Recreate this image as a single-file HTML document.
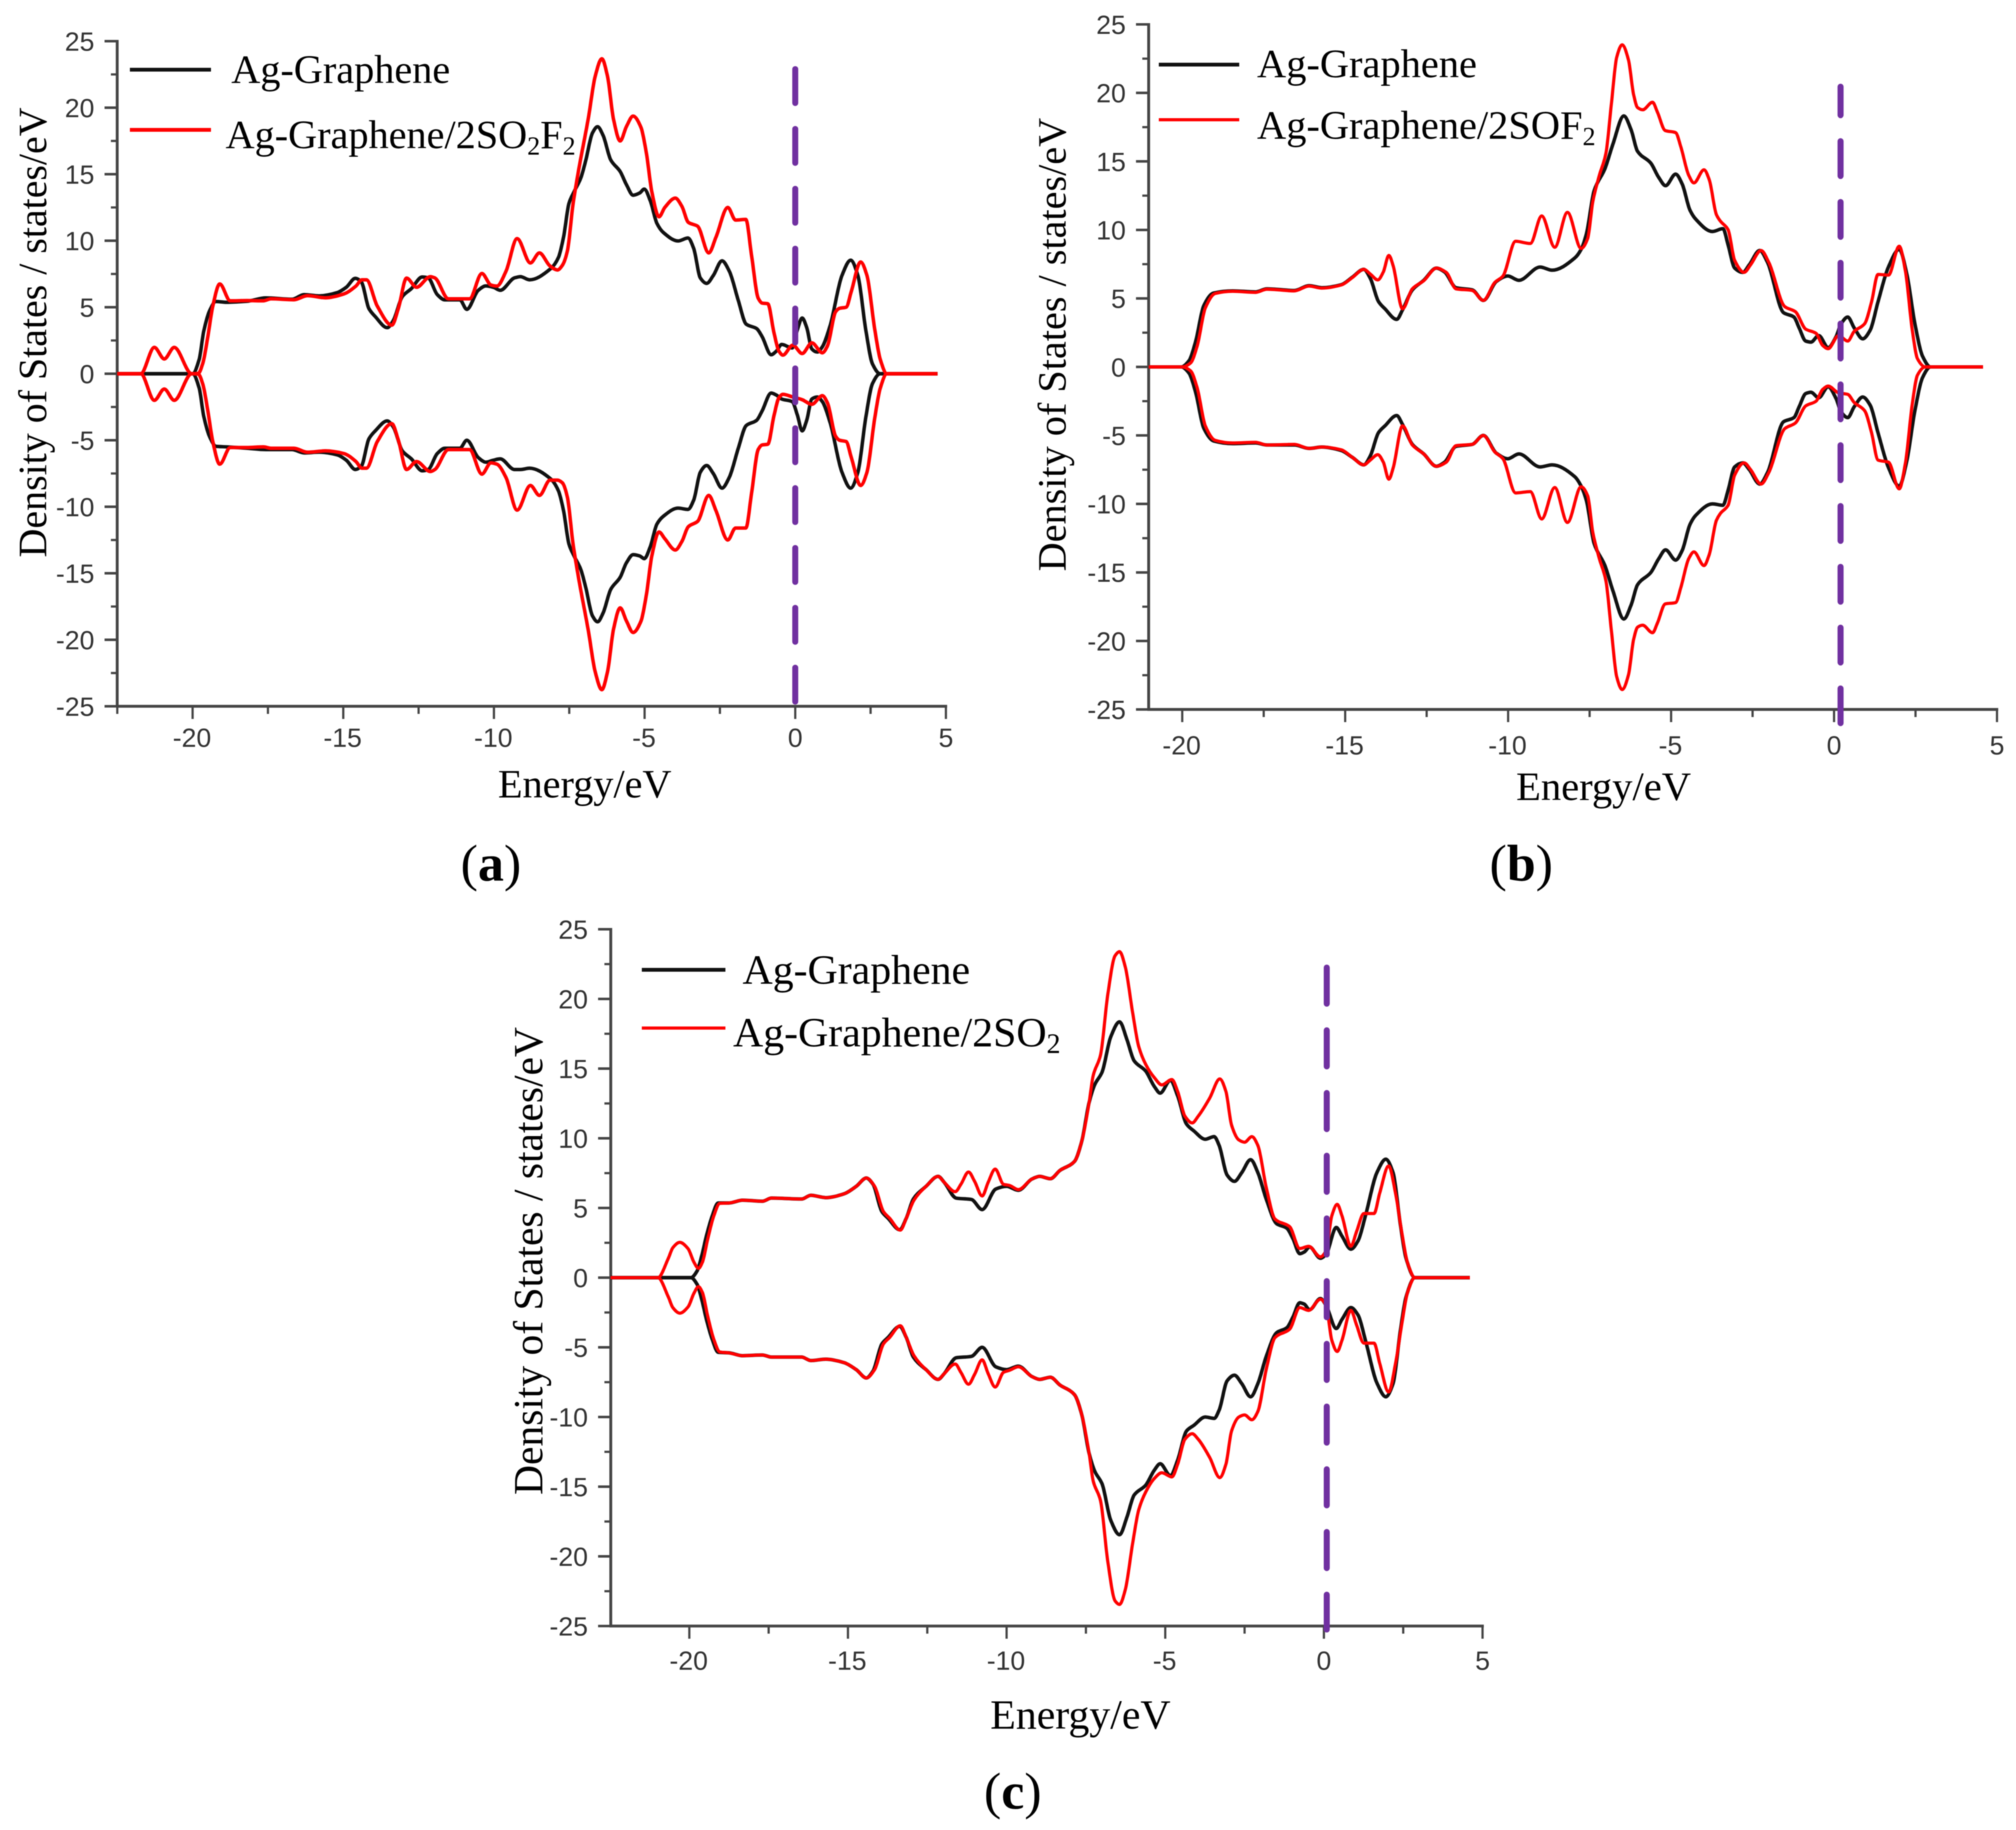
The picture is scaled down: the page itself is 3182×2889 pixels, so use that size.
<!DOCTYPE html>
<html lang="en">
<head>
<meta charset="utf-8">
<title>Density of states charts</title>
<style>
html,body{margin:0;padding:0;background:#fff;}
#figure{display:block;width:3182px;height:2889px;background:#fff;filter:blur(0.7px);}
.tick-label{font-family:"Liberation Sans",sans-serif;font-size:42px;fill:#333;}
.serif{font-family:"Liberation Serif",serif;fill:#000;}
</style>
</head>
<body>
<svg id="figure" xmlns="http://www.w3.org/2000/svg" width="3182" height="2889" viewBox="0 0 3182 2889">
  <g id="panel-a"></g>
  <g id="panel-b"></g>
  <g id="panel-c"></g>

  <text class="serif" font-size="63" transform="translate(73,880) rotate(-90)">Density of States / states/eV</text>
  <text class="serif" font-size="63.5" x="786" y="1259">Energy/eV</text>
  <line x1="205" x2="333" y1="110" y2="110" stroke="#111" stroke-width="6"/>
  <text class="serif" font-size="63.5" x="365" y="131">Ag-Graphene</text>
  <line x1="205" x2="333" y1="205" y2="205" stroke="#f00" stroke-width="6"/>
  <text class="serif" font-size="63.5" x="356" y="234">Ag-Graphene/2SO<tspan font-size="41" dy="10">2</tspan><tspan dy="-10">F</tspan><tspan font-size="41" dy="10">2</tspan></text>
  <text class="serif" font-size="82" x="727" y="1390">(<tspan font-weight="bold">a</tspan>)</text>

  <text class="serif" font-size="63.5" transform="translate(1682,902) rotate(-90)">Density of States / states/eV</text>
  <text class="serif" font-size="64" x="2393" y="1263">Energy/eV</text>
  <line x1="1829" x2="1956" y1="102" y2="102" stroke="#111" stroke-width="6"/>
  <text class="serif" font-size="63.8" x="1984" y="122">Ag-Graphene</text>
  <line x1="1829" x2="1956" y1="189" y2="189" stroke="#f00" stroke-width="5"/>
  <text class="serif" font-size="63.8" x="1984" y="219">Ag-Graphene/2SOF<tspan font-size="41" dy="10">2</tspan></text>
  <text class="serif" font-size="82" x="2351" y="1390">(<tspan font-weight="bold">b</tspan>)</text>

  <text class="serif" font-size="65.5" transform="translate(856,2360) rotate(-90)">Density of States / states/eV</text>
  <text class="serif" font-size="66" x="1563" y="2729">Energy/eV</text>
  <line x1="1013" x2="1145" y1="1531" y2="1531" stroke="#111" stroke-width="6"/>
  <text class="serif" font-size="66" x="1172" y="1553">Ag-Graphene</text>
  <line x1="1013" x2="1145" y1="1623" y2="1623" stroke="#f00" stroke-width="5"/>
  <text class="serif" font-size="66" x="1157" y="1652">Ag-Graphene/2SO<tspan font-size="44" dy="10">2</tspan></text>
  <text class="serif" font-size="82" x="1553" y="2855">(<tspan font-weight="bold">c</tspan>)</text>
</svg>

<script>
// ---------- shared tick labels ----------
const xTickValues = [-20, -15, -10, -5, 0, 5];
const yTickValues = [25, 20, 15, 10, 5, 0, -5, -10, -15, -20, -25];

// ---------- panel (a) ----------
const energyBlackA = [
-22.5,-20.1,-20,-19.78,-19.63,-19.43,-19.23,-18.87,-18.2,-17.57,
-16.7,-16.3,-15.8,-15.2,-14.9,-14.6,-14.4,-14.15,-13.94,-13.54,
-13.34,-13.04,-12.74,-12.38,-12.18,-11.88,-11.63,-11.13,-10.9,-10.52,
-10.27,-10.02,-9.79,-9.32,-9.12,-8.82,-8.12,-7.86,-7.69,-7.51,
-7.34,-7.12,-6.95,-6.73,-6.56,-6.38,-6.12,-5.81,-5.6,-5.38,
-5.16,-5.01,-4.81,-4.59,-4.37,-3.89,-3.56,-3.37,-3.15,-2.94,
-2.72,-2.43,-2.19,-1.89,-1.63,-1.28,-1.1,-.8,-.63,-.45,
-.1,.07,.23,.38,.55,.73,.9,1.16,1.55,1.84,
2.08,2.34,2.56,2.82,4.72];
const dosBlackUpA = [
0,0,0,1.1,3.2,4.76,5.43,5.37,5.45,5.7,
5.6,5.95,5.85,6.1,6.5,7.17,6.9,4.9,4.3,3.46,
4.0,5.8,6.4,7.27,7.2,5.95,5.55,5.55,4.84,6.27,
6.6,6.5,6.27,7.2,7.3,7.06,7.89,8.74,10.27,12.8,
13.68,14.7,16.06,18.1,18.57,17.93,16.06,15.2,14.2,13.42,
13.59,13.88,13.0,11.3,10.6,9.98,10.2,9.42,7.2,6.79,
7.38,8.49,7.72,5.51,3.73,3.39,2.79,1.43,1.69,2.2,
1.94,3.3,4.19,3.47,1.86,1.63,2.03,3.64,7.38,8.54,
7.38,3.3,.75,0,0];
const dosBlackDownA = [
0,0,0,-1.1,-3.2,-4.76,-5.45,-5.5,-5.6,-5.7,
-5.7,-5.95,-5.9,-6.1,-6.5,-7.2,-6.95,-4.9,-4.3,-3.55,
-4.0,-5.8,-6.4,-7.3,-7.2,-6.0,-5.6,-5.6,-5.0,-6.3,
-6.65,-6.5,-6.4,-7.2,-7.2,-7.1,-7.9,-8.8,-10.3,-12.8,
-13.7,-14.7,-16.1,-18.2,-18.65,-18,-16.2,-15.3,-14.2,-13.6,
-13.7,-13.9,-13.0,-11.3,-10.7,-10.1,-10.2,-9.5,-7.4,-6.9,
-7.5,-8.6,-7.8,-5.6,-3.9,-3.5,-2.8,-1.45,-1.6,-1.9,
-2.1,-3.1,-4.3,-3.5,-1.9,-1.75,-2.1,-3.7,-7.4,-8.6,
-7.4,-3.3,-.75,0,0];
const energyRedA = [
-22.5,-21.72,-21.27,-20.94,-20.61,-20.03,-19.81,-19.66,-19.49,-19.33,
-19.1,-18.75,-18.2,-17.65,-17.4,-16.64,-16.19,-15.59,-14.98,-14.58,
-14.38,-14.23,-13.87,-13.39,-13.17,-12.9,-12.57,-12.11,-11.96,-11.51,
-10.81,-10.4,-10.1,-9.9,-9.6,-9.23,-8.79,-8.49,-8.14,-7.89,
-7.73,-7.56,-7.38,-7.21,-6.86,-6.64,-6.42,-6.23,-6.03,-5.81,
-5.6,-5.38,-5.12,-4.94,-4.76,-4.52,-4.33,-3.98,-3.76,-3.55,
-3.24,-2.87,-2.63,-2.24,-1.98,-1.64,-1.45,-1.23,-1.1,-.91,
-.71,-.54,-.41,-.08,.23,.55,.9,1.07,1.34,1.47,
1.69,1.86,2.17,2.38,2.64,2.82,3.04,4.72];
const dosRedUpA = [
0,0,1.98,1.11,1.98,0,.03,.8,2.86,5.08,
6.75,5.48,5.5,5.48,5.63,5.56,5.87,5.71,6.0,6.59,
7.06,7.06,5.08,3.65,4.92,7.19,6.5,7.3,7.2,5.63,
5.63,7.54,6.67,6.59,7.7,10.16,8.33,9.08,8.1,7.8,
8.15,9.25,12.66,15.04,19.29,22.35,23.68,22.35,19.12,17.5,
18.6,19.37,18.52,16.57,13.68,11.8,12.5,13.2,12.57,11.38,
11.09,9.08,10.27,12.5,11.55,11.6,8.9,5.68,5.31,5.26,
3.13,1.69,1.4,2.15,1.52,2.32,1.57,2.1,4.66,4.92,
5.0,6.19,8.4,7.38,3.3,1.09,0,0];
const dosRedDownA = [
0,0,-2.0,-1.15,-2.0,0,-.03,-.8,-2.86,-5.1,
-6.8,-5.55,-5.55,-5.5,-5.6,-5.6,-5.9,-5.8,-6.0,-6.6,
-7.1,-7.1,-5.1,-3.75,-5.0,-7.2,-6.6,-7.35,-7.2,-5.7,
-5.7,-7.55,-6.7,-6.8,-7.8,-10.25,-8.4,-9.15,-8.0,-8.0,
-8.2,-9.3,-12.7,-15.1,-19.4,-22.4,-23.75,-22.4,-19.2,-17.6,
-18.6,-19.45,-18.6,-16.6,-13.7,-11.9,-12.4,-13.25,-12.6,-11.5,
-11.1,-9.15,-10.3,-12.5,-11.6,-11.6,-9.0,-5.7,-5.35,-5.3,
-3.2,-1.8,-1.55,-1.75,-1.95,-2.3,-1.65,-2.2,-4.7,-5.0,
-5.1,-6.3,-8.4,-7.4,-3.3,-1.1,0,0];

// ---------- panel (b) ----------
const energyBlackB = [
-21.03,-20.03,-19.79,-19.59,-19.34,-19.04,-18.45,-17.75,-17.4,-16.56,
-16.11,-15.72,-15.12,-14.78,-14.43,-14.23,-13.98,-13.78,-13.42,-13.24,
-12.94,-12.59,-12.2,-11.95,-11.6,-11.1,-10.76,-10.36,-10.01,-9.67,
-9.02,-8.65,-7.96,-7.76,-7.6,-7.36,-7.03,-6.79,-6.45,-6.23,
-6.03,-5.62,-5.38,-5.17,-4.86,-4.66,-4.42,-4.25,-3.73,-3.41,
-3.25,-3.05,-2.8,-2.6,-2.28,-2.04,-1.55,-1.23,-1.07,-.87,
-.71,-.47,-.18,.06,.22,.42,.62,.88,1.11,1.35,
1.67,2.0,2.23,2.48,2.72,2.96,4.57];
const dosBlackUpB = [
0,0,.46,1.85,4.47,5.39,5.55,5.47,5.7,5.58,
5.93,5.78,6.0,6.55,7.12,6.47,4.78,4.24,3.47,4.16,
5.62,6.32,7.21,6.93,5.78,5.62,4.85,6.24,6.63,6.32,
7.29,7.06,7.94,8.58,9.7,12.87,14.47,16.22,18.32,17.33,
15.74,14.87,13.83,13.23,14.07,13.35,11.44,10.8,9.88,10.09,
8.9,7.22,6.9,7.46,8.5,7.62,3.96,3.64,2.84,1.89,
1.81,2.29,1.41,2.2,3.16,3.64,2.84,2.05,2.69,4.75,
7.3,8.58,6.82,3.16,.76,0,0];
const dosBlackDownB = [
0,0,-.46,-1.85,-4.47,-5.4,-5.6,-5.55,-5.7,-5.7,
-5.95,-5.85,-6.1,-6.6,-7.15,-6.5,-4.8,-4.3,-3.55,-4.2,
-5.65,-6.35,-7.25,-6.95,-5.8,-5.65,-5.0,-6.3,-6.7,-6.35,
-7.3,-7.15,-8.0,-8.7,-9.75,-12.9,-14.5,-16.3,-18.4,-17.4,
-15.9,-15.0,-14.0,-13.35,-14.1,-13.4,-11.5,-10.85,-10.0,-10.1,
-9.0,-7.3,-7.0,-7.5,-8.55,-7.7,-4.0,-3.7,-2.9,-1.95,
-1.85,-2.25,-1.45,-2.3,-3.3,-3.7,-2.9,-2.2,-2.8,-4.8,
-7.35,-8.7,-6.9,-3.2,-.76,0,0];
const energyRedB = [
-21.03,-20,-19.74,-19.54,-19.29,-18.99,-18.45,-17.75,-17.4,-16.56,
-16.11,-15.72,-15.12,-14.78,-14.43,-14.23,-14,-13.83,-13.66,-13.53,
-13.24,-12.94,-12.59,-12.2,-11.9,-11.6,-11.1,-10.76,-10.41,-10.16,
-9.77,-9.32,-8.97,-8.57,-8.18,-7.76,-7.56,-7.4,-7.2,-7,
-6.83,-6.67,-6.5,-6.31,-6.15,-6.03,-5.87,-5.57,-5.42,-5.18,
-4.86,-4.7,-4.46,-4.3,-3.99,-3.83,-3.61,-3.49,-3.25,-3.05,
-2.76,-2.56,-2.24,-2,-1.51,-1.19,-.87,-.55,-.35,-.18,
.14,.42,.62,.94,1.15,1.35,1.67,2,2.19,2.4,
2.56,2.8,4.57];
const dosRedUpB = [
0,0,.3,1.54,4.31,5.36,5.52,5.44,5.67,5.55,
5.9,5.75,5.98,6.52,7.12,6.78,6.35,6.93,8.14,7.4,
4.24,5.7,6.29,7.21,6.9,5.7,5.58,4.85,6.16,6.63,
9.17,9.01,11.02,8.73,11.28,8.65,9.37,12.08,13.99,15.58,
19.25,22.59,23.51,22.43,19.88,18.93,18.77,19.32,18.6,17.25,
17.1,16.06,13.99,13.43,14.39,13.67,11.12,10.65,10.01,7.78,
6.9,7.46,8.5,7.62,4.4,4.04,2.76,2.45,1.57,1.33,
2.29,1.89,2.6,3.16,4.75,6.75,6.7,8.81,6.98,2.68,
.6,0,0];
const dosRedDownB = [
0,0,-.3,-1.54,-4.31,-5.36,-5.55,-5.5,-5.7,-5.65,
-5.95,-5.85,-6.05,-6.6,-7.15,-6.8,-6.4,-6.95,-8.2,-7.4,
-4.3,-5.7,-6.35,-7.25,-6.95,-5.75,-5.65,-5.0,-6.2,-6.7,
-9.2,-9.1,-11.1,-8.8,-11.35,-8.75,-9.4,-12.1,-14.0,-15.6,
-19.3,-22.6,-23.55,-22.5,-19.9,-19.0,-18.85,-19.4,-18.7,-17.3,
-17.2,-16.1,-14.0,-13.5,-14.5,-13.7,-11.2,-10.7,-10.1,-7.9,
-7.0,-7.5,-8.55,-7.7,-4.5,-4.1,-2.85,-2.5,-1.65,-1.4,
-1.9,-2.0,-2.6,-3.2,-4.8,-6.8,-6.95,-8.9,-7.0,-2.7,
-.6,0,0];

// ---------- panel (c) ----------
const energyBlackC = [
-22.48,-19.95,-19.755,-19.61,-19.47,-19.28,-19.09,-18.75,-18.32,-17.7,
-17.41,-16.46,-16.17,-15.7,-15.12,-14.74,-14.42,-14.21,-13.93,-13.74,
-13.37,-13.16,-12.94,-12.54,-12.16,-11.97,-11.59,-11.11,-10.77,-10.34,
-10,-9.63,-9.2,-8.96,-8.62,-8.32,-7.86,-7.63,-7.4,-7.22,
-6.99,-6.72,-6.44,-6.21,-5.98,-5.62,-5.34,-5.16,-4.84,-4.61,
-4.33,-4.1,-3.74,-3.46,-3.3,-3.05,-2.82,-2.59,-2.31,-2.08,
-1.81,-1.49,-1.17,-.98,-.76,-.62,-.45,-.11,.07,.39,
.57,.85,1.08,1.31,1.67,1.95,2.18,2.41,2.59,2.87,
4.6];
const dosBlackUpC = [
0,0,.48,1.55,2.91,4.42,5.36,5.36,5.56,5.48,
5.71,5.64,5.91,5.74,6.02,6.55,7.15,6.7,4.73,4.27,
3.44,4.27,5.64,6.55,7.27,6.85,5.71,5.61,4.88,6.36,
6.55,6.27,7.08,7.27,7.1,7.69,8.34,9.8,12.56,13.86,
14.75,17.27,18.36,17.1,15.56,14.83,13.7,13.24,14.15,13.05,
11.02,10.53,9.93,10.12,9.48,7.36,6.91,7.53,8.47,7.53,
5.58,3.87,3.55,2.82,1.72,1.84,2.2,1.39,1.68,3.6,
2.98,2.04,2.66,4.44,7.53,8.5,7.53,3.81,1.38,0,
0];
const dosBlackDownC = [
0,0,-.48,-1.55,-2.91,-4.42,-5.36,-5.4,-5.6,-5.55,
-5.7,-5.7,-5.95,-5.85,-6.1,-6.6,-7.2,-6.7,-4.75,-4.3,
-3.5,-4.3,-5.7,-6.6,-7.3,-6.9,-5.75,-5.65,-5.0,-6.4,
-6.6,-6.35,-7.1,-7.3,-7.15,-7.7,-8.4,-9.85,-12.6,-13.9,
-14.8,-17.4,-18.45,-17.2,-15.6,-14.9,-13.8,-13.35,-14.2,-13.1,
-11.0,-10.6,-10.0,-10.1,-9.5,-7.4,-7.0,-7.6,-8.55,-7.6,
-5.6,-3.95,-3.6,-2.85,-1.8,-1.9,-2.3,-1.5,-2.0,-3.65,
-3.0,-2.15,-2.7,-4.5,-7.55,-8.55,-7.6,-3.8,-1.38,0,
0];
const energyRedC = [
-22.48,-20.99,-20.66,-20.52,-20.3,-20.04,-19.85,-19.71,-19.59,-19.42,
-19.23,-19.04,-18.75,-18.32,-17.7,-17.41,-16.46,-16.17,-15.7,-15.12,
-14.74,-14.42,-14.16,-13.88,-13.69,-13.35,-13.16,-12.92,-12.54,-12.16,
-11.97,-11.62,-11.44,-11.2,-11.01,-10.77,-10.58,-10.36,-10.1,-9.91,
-9.63,-9.2,-8.96,-8.62,-8.32,-7.86,-7.63,-7.4,-7.27,-7.04,
-6.81,-6.58,-6.44,-6.26,-6.03,-5.84,-5.62,-5.34,-5.11,-4.79,
-4.61,-4.38,-4.15,-3.96,-3.6,-3.28,-3.09,-2.91,-2.68,-2.5,
-2.27,-2.08,-1.81,-1.54,-1.08,-.76,-.48,-.11,.07,.25,
.42,.57,.85,1.03,1.26,1.58,1.76,2.04,2.27,2.45,
2.64,2.87,4.6];
const dosRedUpC = [
0,0,1.39,2.15,2.53,2.08,1.09,.67,1.09,2.76,
4.42,5.33,5.36,5.56,5.48,5.71,5.64,5.91,5.74,6.02,
6.55,7.15,6.55,4.73,4.27,3.41,4.27,5.56,6.55,7.27,
6.85,6.17,6.7,7.58,6.92,5.86,6.85,7.79,6.7,6.62,
6.32,7.08,7.27,7.1,7.69,8.34,9.8,12.56,14.51,15.97,
20.35,23.11,23.39,22.3,19.05,16.62,15.32,14.34,13.83,14.22,
13.37,11.59,11.1,11.59,12.88,14.26,13.37,10.94,9.88,9.72,
10.12,9.48,6.39,4.2,3.66,2.09,2.25,1.49,1.93,4.44,
5.26,4.44,2.25,3.31,4.6,4.6,6.07,8.01,5.9,3.31,
1.03,0,0];
const dosRedDownC = [
0,0,-1.39,-2.15,-2.55,-2.1,-1.1,-.65,-1.05,-2.76,
-4.42,-5.33,-5.4,-5.6,-5.55,-5.7,-5.7,-5.95,-5.85,-6.1,
-6.6,-7.2,-6.6,-4.75,-4.3,-3.45,-4.3,-5.6,-6.6,-7.3,
-6.9,-6.2,-6.8,-7.65,-6.95,-5.9,-6.9,-7.85,-6.8,-6.65,
-6.4,-7.1,-7.3,-7.15,-7.7,-8.4,-9.85,-12.6,-14.6,-16.0,
-20.4,-23.2,-23.45,-22.4,-19.1,-16.7,-15.4,-14.4,-14.0,-14.3,
-13.4,-11.6,-11.2,-11.6,-12.9,-14.35,-13.4,-11.0,-10.0,-9.85,
-10.2,-9.6,-6.5,-4.3,-3.7,-2.15,-2.35,-1.55,-2.0,-4.5,
-5.3,-4.5,-2.35,-3.4,-4.7,-4.7,-6.15,-8.2,-6.0,-3.4,
-1.03,0,0];

// ---------- Fermi level markers (energy, top value, bottom value) ----------
const fermiA = [0, 22.9, -24.8];
const fermiB = [0.2, 20.45, -26];
const fermiC = [0.09, 22.25, -25.25];

// ---------- layout (screen geometry of each plot) ----------
const layoutA = {id:'a', left:185, xAt:[304,1493], top:65, bottom:1115, right:1493, labelGap:49, dash:[53.5,41], dashOffset:0, xMinValue:-22.5};
const layoutB = {id:'b', left:1813, xAt:[1866,3152], top:38.5, bottom:1120, right:3152, labelGap:56, dash:[55,41], dashOffset:10, xMinValue:-21.03};
const layoutC = {id:'c', left:964, xAt:[1088,2340], top:1467, bottom:2567, right:2340, labelGap:54, dash:[57,42], dashOffset:0, xMinValue:-22.48};

const SVG_NS = 'http://www.w3.org/2000/svg';

function monotonePath(px, py) {
  const n = px.length;
  const dx = [], dy = [], m = [], t = new Array(n).fill(0);
  for (let i = 0; i < n - 1; i++) {
    dx.push(px[i + 1] - px[i]);
    dy.push(py[i + 1] - py[i]);
    m.push(dy[i] / dx[i]);
  }
  t[0] = m[0];
  t[n - 1] = m[n - 2];
  for (let i = 1; i < n - 1; i++) {
    if (m[i - 1] * m[i] <= 0) { t[i] = 0; continue; }
    const w1 = 2 * dx[i] + dx[i - 1];
    const w2 = dx[i] + 2 * dx[i - 1];
    t[i] = (w1 + w2) / (w1 / m[i - 1] + w2 / m[i]);
  }
  let d = 'M' + px[0].toFixed(1) + ' ' + py[0].toFixed(1);
  for (let i = 0; i < n - 1; i++) {
    const h = dx[i] / 3;
    d += 'C' + (px[i] + h).toFixed(1) + ' ' + (py[i] + t[i] * h).toFixed(1) + ' ' +
         (px[i + 1] - h).toFixed(1) + ' ' + (py[i + 1] - t[i + 1] * h).toFixed(1) + ' ' +
         px[i + 1].toFixed(1) + ' ' + py[i + 1].toFixed(1);
  }
  return d;
}

function addXTick(group, layout, x, major) {
  const tick = document.createElementNS(SVG_NS, 'line');
  
  
  tick.setAttribute('x1', x);
  tick.setAttribute('x2', x);
  tick.setAttribute('y1', layout.bottom);
  tick.setAttribute('y2', layout.bottom + (major ? 20 : 12));
  tick.setAttribute('stroke', '#444');
  tick.setAttribute('stroke-width', 3.5);
  group.appendChild(tick);
}

function buildPanel(layout, black, red, fermi) {
  const group = document.getElementById('panel-' + layout.id);
  const pxPerEv = (layout.xAt[1] - layout.xAt[0]) / 25;
  const xScale = function (e) { return layout.xAt[0] + (e + 20) * pxPerEv; };
  const yScale = function (v) { return (layout.top + layout.bottom) / 2 - v * (layout.bottom - layout.top) / 50; };

  // y axis ticks
  for (let v = -25; v <= 25; v += 2.5) {
    const major = v % 5 === 0;
    const tick = document.createElementNS(SVG_NS, 'line');
    
    
    tick.setAttribute('x1', layout.left - (major ? 20 : 10));
    tick.setAttribute('x2', layout.left);
    tick.setAttribute('y1', yScale(v));
    tick.setAttribute('y2', yScale(v));
    tick.setAttribute('stroke', '#444');
    tick.setAttribute('stroke-width', major ? 4 : 3.5);
    group.appendChild(tick);
  }
  yTickValues.forEach(function (v) {
    const label = document.createElementNS(SVG_NS, 'text');
    
    
    label.setAttribute('class', 'tick-label');
    label.setAttribute('x', layout.left - 36);
    label.setAttribute('y', yScale(v) + 15);
    label.setAttribute('text-anchor', 'end');
    label.textContent = String(v);
    group.appendChild(label);
  });

  // x axis ticks
  for (let e = -20; e >= layout.xMinValue; e -= 2.5) {
    addXTick(group, layout, xScale(e), e % 5 === 0);
  }
  for (let e = -17.5; e <= 5; e += 2.5) {
    addXTick(group, layout, xScale(e), e % 5 === 0);
  }
  xTickValues.forEach(function (e) {
    const label = document.createElementNS(SVG_NS, 'text');
    
    
    label.setAttribute('class', 'tick-label');
    label.setAttribute('x', xScale(e) - (e < 0 ? 1 : 0));
    label.setAttribute('y', layout.bottom + layout.labelGap + 15);
    label.setAttribute('text-anchor', 'middle');
    label.textContent = String(e);
    group.appendChild(label);
  });

  // axis lines
  const yAxis = document.createElementNS(SVG_NS, 'line');
  
  
  yAxis.setAttribute('x1', layout.left);
  yAxis.setAttribute('x2', layout.left);
  yAxis.setAttribute('y1', layout.top - 2);
  yAxis.setAttribute('y2', layout.bottom + 2);
  yAxis.setAttribute('stroke', '#444');
  yAxis.setAttribute('stroke-width', 4.5);
  group.appendChild(yAxis);

  const xAxis = document.createElementNS(SVG_NS, 'line');
  
  
  xAxis.setAttribute('x1', layout.left - 2);
  xAxis.setAttribute('x2', layout.right + 2);
  xAxis.setAttribute('y1', layout.bottom);
  xAxis.setAttribute('y2', layout.bottom);
  xAxis.setAttribute('stroke', '#444');
  xAxis.setAttribute('stroke-width', 4.5);
  group.appendChild(xAxis);

  // series
  [black, red].forEach(function (series) {
    [series.up, series.down].forEach(function (values, idx) {
      const path = document.createElementNS(SVG_NS, 'path');
      
      
      path.setAttribute('d', monotonePath(series.energy.map(xScale), values.map(yScale)));
      path.setAttribute('fill', 'none');
      path.setAttribute('stroke', series.color);
      path.setAttribute('stroke-width', series.width);
      path.setAttribute('stroke-linejoin', 'round');
      group.appendChild(path);
    });
  });

  // Fermi level
  const fermiLine = document.createElementNS(SVG_NS, 'line');
  
  
  fermiLine.setAttribute('x1', xScale(fermi[0]));
  fermiLine.setAttribute('x2', xScale(fermi[0]));
  fermiLine.setAttribute('y1', yScale(fermi[1]));
  fermiLine.setAttribute('y2', yScale(fermi[2]));
  fermiLine.setAttribute('stroke', '#7030a0');
  fermiLine.setAttribute('stroke-width', 9.5);
  fermiLine.setAttribute('stroke-linecap', 'round');
  fermiLine.setAttribute('stroke-dasharray', layout.dash.join(' '));
  fermiLine.setAttribute('stroke-dashoffset', layout.dashOffset);
  group.appendChild(fermiLine);
}

buildPanel(layoutA,
  {name:'ag-graphene', color:'#111', width:5.5, energy:energyBlackA, up:dosBlackUpA, down:dosBlackDownA},
  {name:'ag-graphene-2so2f2', color:'#f00', width:5.5, energy:energyRedA, up:dosRedUpA, down:dosRedDownA},
  fermiA);
buildPanel(layoutB,
  {name:'ag-graphene', color:'#111', width:5.5, energy:energyBlackB, up:dosBlackUpB, down:dosBlackDownB},
  {name:'ag-graphene-2sof2', color:'#f00', width:5, energy:energyRedB, up:dosRedUpB, down:dosRedDownB},
  fermiB);
buildPanel(layoutC,
  {name:'ag-graphene', color:'#111', width:5.5, energy:energyBlackC, up:dosBlackUpC, down:dosBlackDownC},
  {name:'ag-graphene-2so2', color:'#f00', width:5, energy:energyRedC, up:dosRedUpC, down:dosRedDownC},
  fermiC);
</script>
</body>
</html>
